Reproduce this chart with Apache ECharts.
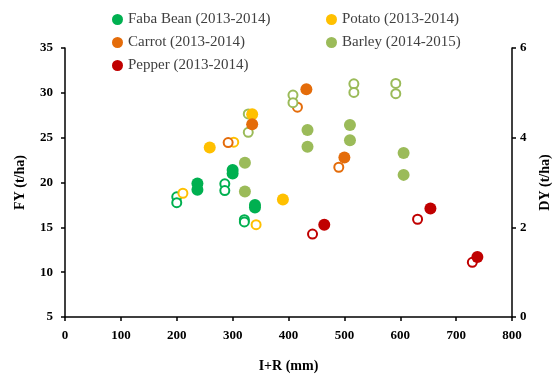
<!DOCTYPE html>
<html>
<head>
<meta charset="utf-8">
<title>FY / DY vs I+R</title>
<script src="https://cdn.jsdelivr.net/npm/echarts@6/dist/echarts.min.js"></script>
<style>
  html, body { margin: 0; padding: 0; background: #fff; }
  #chart { width: 560px; height: 379px; }
</style>
</head>
<body>
<div id="chart"></div>
<script>
// [I+R (mm), FY (t/ha)] - filled markers, left axis
var fabaFY = [[237, 19.9], [237, 19.2], [300, 21.4], [300, 21.0], [340, 17.5], [340, 17.2]]
var potatoFY = [[259, 23.9], [335, 27.6], [390, 18.1]]
var carrotFY = [[335, 26.5], [432, 30.4], [500, 22.8]]
var barleyFY = [[322, 22.2], [322, 19.0], [434, 25.85], [434, 24.0], [510, 26.4], [510, 24.7], [606, 23.3], [606, 20.85]]
var pepperFY = [[464, 15.3], [654, 17.1], [738, 11.7]]

// [I+R (mm), DY (t/ha)] - open markers, right axis
var fabaDY = [[200, 2.68], [200, 2.55], [286, 2.97], [286, 2.82], [321, 2.17], [321, 2.12]]
var potatoDY = [[211, 2.76], [302, 3.9], [342, 2.06]]
var carrotDY = [[292, 3.89], [416, 4.68], [490, 3.34]]
var barleyDY = [[328, 4.53], [328, 4.12], [408, 4.95], [408, 4.78], [517, 5.2], [517, 5.01], [592, 5.21], [592, 4.98]]
var pepperDY = [[443, 1.85], [631, 2.18], [729, 1.22]]

var crops = ['Faba Bean (2013-2014)', 'Potato (2013-2014)', 'Carrot (2013-2014)', 'Barley (2014-2015)', 'Pepper (2013-2014)']
var colors = ['#00b050', '#ffc000', '#e46c0a', '#9bbb59', '#c00000']
var fyData = [fabaFY, potatoFY, carrotFY, barleyFY, pepperFY]
var dyData = [fabaDY, potatoDY, carrotDY, barleyDY, pepperDY]

var serif = 'Liberation Serif, Times New Roman, serif'

var series = []
for (var i = 0; i < crops.length; i++) {
  // open circles (DY) first so the filled ones sit on top
  series.push({
    name: crops[i] + ' DY',
    type: 'scatter',
    yAxisIndex: 1,
    symbol: 'circle',
    symbolSize: 9,
    data: dyData[i],
    itemStyle: { color: '#fff', borderColor: colors[i], borderWidth: 2, opacity: 1 }
  })
}
for (i = 0; i < crops.length; i++) {
  series.push({
    name: crops[i],
    type: 'scatter',
    yAxisIndex: 0,
    symbol: 'circle',
    symbolSize: 12,
    data: fyData[i],
    itemStyle: { color: colors[i], opacity: 1 }
  })
}

var axisLine = { show: true, lineStyle: { color: '#000', width: 1.5 } }
var axisTick = { show: true, inside: false, length: 4, lineStyle: { color: '#000', width: 1.5 } }
var labelStyle = { color: '#000', fontFamily: serif, fontWeight: 'bold', fontSize: 13 }
var nameStyle = { color: '#000', fontFamily: serif, fontWeight: 'bold', fontSize: 14 }
var legendText = { color: '#404040', fontFamily: serif, fontSize: 15 }

var chart = echarts.init(document.getElementById('chart'))
chart.setOption({
  backgroundColor: '#fff',
  animation: false,
  legend: [{
    data: [crops[0], crops[2], crops[4]],
    orient: 'vertical',
    left: 107,
    top: 7,
    itemGap: 8,
    itemWidth: 11,
    itemHeight: 11,
    icon: 'circle',
    textStyle: legendText
  }, {
    data: [crops[1], crops[3]],
    orient: 'vertical',
    left: 321,
    top: 7,
    itemGap: 8,
    itemWidth: 11,
    itemHeight: 11,
    icon: 'circle',
    textStyle: legendText
  }],
  grid: { left: 65, right: 38, top: 48, bottom: 62 },
  xAxis: {
    type: 'value',
    min: 0,
    max: 800,
    interval: 100,
    name: 'I+R (mm)',
    nameLocation: 'middle',
    nameGap: 42,
    nameTextStyle: nameStyle,
    axisLine: axisLine,
    axisTick: axisTick,
    axisLabel: Object.assign({ margin: 12 }, labelStyle),
    splitLine: { show: false }
  },
  yAxis: [{
    type: 'value',
    min: 5,
    max: 35,
    interval: 5,
    name: 'FY (t/ha)',
    nameLocation: 'middle',
    nameGap: 38,
    nameTextStyle: nameStyle,
    axisLine: axisLine,
    axisTick: axisTick,
    axisLabel: Object.assign({ margin: 12 }, labelStyle),
    splitLine: { show: false }
  }, {
    type: 'value',
    position: 'right',
    min: 0,
    max: 6,
    interval: 2,
    name: 'DY (t/ha)',
    nameLocation: 'middle',
    nameGap: 26,
    nameTextStyle: nameStyle,
    axisLine: axisLine,
    axisTick: axisTick,
    axisLabel: Object.assign({ margin: 8 }, labelStyle),
    splitLine: { show: false }
  }],
  series: series
})
</script>
</body>
</html>
